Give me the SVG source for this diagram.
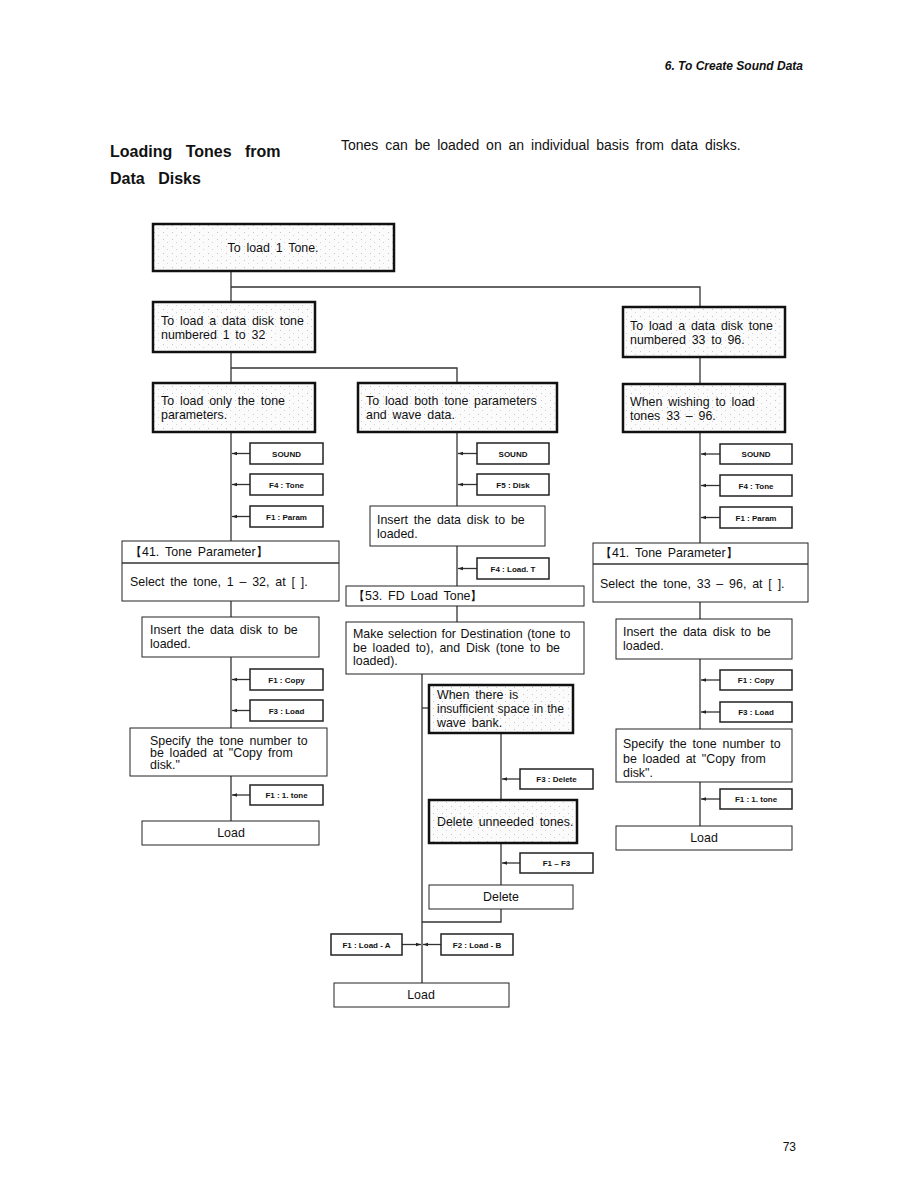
<svg xmlns="http://www.w3.org/2000/svg" width="918" height="1188" viewBox="0 0 918 1188">
<style>
text{font-family:"Liberation Sans",Arial,sans-serif;fill:#111}
.t{font-size:12.4px;word-spacing:2.4px}
.key{font-size:8px;font-weight:bold;text-anchor:middle}
.thick{fill:url(#dots);stroke:#111;stroke-width:2.5}
.thin{fill:#fff;stroke:#222;stroke-width:1}
.kb{fill:#fff;stroke:#222;stroke-width:1.5}
.ln{fill:none;stroke:#333;stroke-width:1.3}
.ar{fill:none;stroke:#333;stroke-width:1.3;marker-end:url(#ah)}
</style>
<defs>
<pattern id="dots" width="9" height="7" patternUnits="userSpaceOnUse">
<rect width="9" height="7" fill="#fbfbfb"/>
<rect x="1" y="1" width="1" height="1" fill="#c4c4c4"/>
<rect x="5" y="4" width="1" height="1" fill="#d2d2d2"/>
</pattern>
<marker id="ah" viewBox="0 0 6 6" refX="6" refY="3" markerWidth="5" markerHeight="5" orient="auto" markerUnits="userSpaceOnUse">
<path d="M0,0.8 L6,3 L0,5.2 z" fill="#222"/>
</marker>
</defs>
<rect width="918" height="1188" fill="#fff"/>

<text x="803" y="70" font-size="12" font-weight="bold" font-style="italic" text-anchor="end">6. To Create Sound Data</text>
<text x="110" y="157" font-size="16" font-weight="bold" word-spacing="9">Loading Tones from</text>
<text x="110" y="184" font-size="16" font-weight="bold" word-spacing="9">Data Disks</text>
<text x="341" y="150" font-size="14" word-spacing="3">Tones can be loaded on an individual basis from data disks.</text>
<text x="796" y="1151" font-size="12" text-anchor="end">73</text>

<g id="connectors">
<polyline class="ln" points="231,271 231,302"/>
<polyline class="ln" points="231,287 700,287 700,307"/>
<polyline class="ln" points="231,352 231,383"/>
<polyline class="ln" points="231,368 457,368 457,383"/>
<polyline class="ln" points="700,357 700,384"/>
<polyline class="ln" points="231,432 231,541"/>
<line class="ar" x1="250" y1="453.5" x2="232" y2="453.5"/>
<line class="ar" x1="250" y1="484.5" x2="232" y2="484.5"/>
<line class="ar" x1="250" y1="516.5" x2="232" y2="516.5"/>
<polyline class="ln" points="231,601 231,617"/>
<polyline class="ln" points="231,657 231,728"/>
<line class="ar" x1="250" y1="679.5" x2="232" y2="679.5"/>
<line class="ar" x1="250" y1="710.5" x2="232" y2="710.5"/>
<polyline class="ln" points="231,776 231,821"/>
<line class="ar" x1="250" y1="795" x2="232" y2="795"/>
<polyline class="ln" points="457,432 457,506"/>
<line class="ar" x1="477" y1="453.5" x2="458" y2="453.5"/>
<line class="ar" x1="477" y1="484.5" x2="458" y2="484.5"/>
<polyline class="ln" points="457,546 457,586"/>
<line class="ar" x1="477" y1="568.5" x2="458" y2="568.5"/>
<polyline class="ln" points="457,606 457,622"/>
<polyline class="ln" points="422,674 422,983"/>
<polyline class="ln" points="422,708 429,708"/>
<polyline class="ln" points="501,733 501,800"/>
<line class="ar" x1="520" y1="779" x2="502" y2="779"/>
<polyline class="ln" points="501,843 501,885"/>
<line class="ar" x1="520" y1="863" x2="502" y2="863"/>
<polyline class="ln" points="501,909 501,922 422,922"/>
<line class="ar" x1="402" y1="944.5" x2="421" y2="944.5"/>
<line class="ar" x1="441" y1="944.5" x2="423" y2="944.5"/>
<polyline class="ln" points="700,432 700,543"/>
<line class="ar" x1="720" y1="454" x2="701" y2="454"/>
<line class="ar" x1="720" y1="485.5" x2="701" y2="485.5"/>
<line class="ar" x1="720" y1="517.5" x2="701" y2="517.5"/>
<polyline class="ln" points="700,602 700,619"/>
<polyline class="ln" points="700,659 700,729"/>
<line class="ar" x1="720" y1="680" x2="701" y2="680"/>
<line class="ar" x1="720" y1="712" x2="701" y2="712"/>
<polyline class="ln" points="700,782 700,826"/>
<line class="ar" x1="720" y1="799" x2="701" y2="799"/>
</g>

<g id="n_top"><rect class="thick" x="153" y="224" width="241" height="47"/><text class="t" x="273" y="252" text-anchor="middle">To load 1 Tone.</text></g>
<g id="n_l1"><rect class="thick" x="153" y="302" width="162" height="50"/><text class="t" x="161" y="325">To load a data disk tone</text><text class="t" x="161" y="339">numbered 1 to 32</text></g>
<g id="n_r1"><rect class="thick" x="623" y="307" width="162" height="50"/><text class="t" x="630" y="330">To load a data disk tone</text><text class="t" x="630" y="344">numbered 33 to 96.</text></g>
<g id="n_l2"><rect class="thick" x="153" y="383" width="162" height="49"/><text class="t" x="161" y="405">To load only the tone</text><text class="t" x="161" y="419">parameters.</text></g>
<g id="n_m2"><rect class="thick" x="358" y="383" width="199" height="49"/><text class="t" x="366" y="405">To load both tone parameters</text><text class="t" x="366" y="419">and wave data.</text></g>
<g id="n_r2"><rect class="thick" x="623" y="384" width="162" height="48"/><text class="t" x="630" y="406">When wishing to load</text><text class="t" x="630" y="420">tones 33 – 96.</text></g>

<g id="k_l_sound"><rect class="kb" x="250" y="443" width="73" height="21"/><text class="key" x="286.5" y="456.5">SOUND</text></g>
<g id="k_l_tone"><rect class="kb" x="250" y="474" width="73" height="21"/><text class="key" x="286.5" y="487.5">F4 : Tone</text></g>
<g id="k_l_param"><rect class="kb" x="250" y="506" width="73" height="21"/><text class="key" x="286.5" y="519.5">F1 : Param</text></g>
<g id="n_l_tp"><rect class="thin" x="122" y="541" width="217" height="60"/><line class="ln" x1="122" y1="563" x2="339" y2="563" stroke-width="1"/><text class="t" x="130" y="556">【41. Tone Parameter】</text><text class="t" x="130" y="586">Select the tone, 1 – 32, at [ ].</text></g>
<g id="n_l_ins"><rect class="thin" x="142" y="617" width="177" height="40"/><text class="t" x="150" y="634">Insert the data disk to be</text><text class="t" x="150" y="648">loaded.</text></g>
<g id="k_l_copy"><rect class="kb" x="250" y="669" width="73" height="21"/><text class="key" x="286.5" y="682.5">F1 : Copy</text></g>
<g id="k_l_load"><rect class="kb" x="250" y="700" width="73" height="21"/><text class="key" x="286.5" y="713.5">F3 : Load</text></g>
<g id="n_l_spec"><rect class="thin" x="130" y="728" width="197" height="48"/><text class="t" x="150" y="745">Specify the tone number to</text><text class="t" x="150" y="757">be loaded at "Copy from</text><text class="t" x="150" y="769">disk."</text></g>
<g id="k_l_1tone"><rect class="kb" x="250" y="785" width="73" height="20"/><text class="key" x="286.5" y="798">F1 : 1. tone</text></g>
<g id="n_l_load"><rect class="thin" x="142" y="821" width="177" height="24"/><text class="t" x="231" y="837" text-anchor="middle">Load</text></g>

<g id="k_m_sound"><rect class="kb" x="477" y="443" width="72" height="21"/><text class="key" x="513" y="456.5">SOUND</text></g>
<g id="k_m_disk"><rect class="kb" x="477" y="474" width="72" height="21"/><text class="key" x="513" y="487.5">F5 : Disk</text></g>
<g id="n_m_ins"><rect class="thin" x="370" y="506" width="175" height="40"/><text class="t" x="377" y="524">Insert the data disk to be</text><text class="t" x="377" y="538">loaded.</text></g>
<g id="k_m_loadt"><rect class="kb" x="477" y="558" width="72" height="21"/><text class="key" x="513" y="571.5">F4 : Load. T</text></g>
<g id="n_m_fd"><rect class="thin" x="346" y="586" width="238" height="20"/><text class="t" x="353" y="600">【53. FD Load Tone】</text></g>
<g id="n_m_sel"><rect class="thin" x="346" y="622" width="238" height="52"/><text class="t" x="353" y="638" style="word-spacing:1.2px">Make selection for Destination (tone to</text><text class="t" x="353" y="652">be loaded to), and Disk (tone to be</text><text class="t" x="353" y="665">loaded).</text></g>
<g id="n_m_when"><rect class="thick" x="429" y="685" width="144" height="48"/><text class="t" x="437" y="699">When there is</text><text class="t" x="437" y="713" style="font-size:12px;word-spacing:0.8px">insufficient space in the</text><text class="t" x="437" y="727">wave bank.</text></g>
<g id="k_m_del"><rect class="kb" x="520" y="769" width="73" height="20"/><text class="key" x="556.5" y="782">F3 : Delete</text></g>
<g id="n_m_delun"><rect class="thick" x="429" y="800" width="148" height="43"/><text class="t" x="437" y="826">Delete unneeded tones.</text></g>
<g id="k_m_f1f3"><rect class="kb" x="520" y="853" width="73" height="20"/><text class="key" x="556.5" y="866">F1 – F3</text></g>
<g id="n_m_delete"><rect class="thin" x="429" y="885" width="144" height="24"/><text class="t" x="501" y="901" text-anchor="middle">Delete</text></g>
<g id="k_m_la"><rect class="kb" x="331" y="934" width="71" height="21"/><text class="key" x="366.5" y="947.5">F1 : Load - A</text></g>
<g id="k_m_lb"><rect class="kb" x="441" y="934" width="72" height="21"/><text class="key" x="477" y="947.5">F2 : Load - B</text></g>
<g id="n_m_load"><rect class="thin" x="334" y="983" width="175" height="24"/><text class="t" x="421" y="999" text-anchor="middle">Load</text></g>

<g id="k_r_sound"><rect class="kb" x="720" y="444" width="72" height="20"/><text class="key" x="756" y="457">SOUND</text></g>
<g id="k_r_tone"><rect class="kb" x="720" y="475" width="72" height="21"/><text class="key" x="756" y="488.5">F4 : Tone</text></g>
<g id="k_r_param"><rect class="kb" x="720" y="507" width="72" height="21"/><text class="key" x="756" y="520.5">F1 : Param</text></g>
<g id="n_r_tp"><rect class="thin" x="593" y="543" width="215" height="59"/><line class="ln" x1="593" y1="564" x2="808" y2="564" stroke-width="1"/><text class="t" x="600" y="557">【41. Tone Parameter】</text><text class="t" x="600" y="588">Select the tone, 33 – 96, at [ ].</text></g>
<g id="n_r_ins"><rect class="thin" x="616" y="619" width="176" height="40"/><text class="t" x="623" y="636">Insert the data disk to be</text><text class="t" x="623" y="650">loaded.</text></g>
<g id="k_r_copy"><rect class="kb" x="720" y="670" width="72" height="20"/><text class="key" x="756" y="683">F1 : Copy</text></g>
<g id="k_r_load"><rect class="kb" x="720" y="702" width="72" height="20"/><text class="key" x="756" y="715">F3 : Load</text></g>
<g id="n_r_spec"><rect class="thin" x="616" y="729" width="176" height="53"/><text class="t" x="623" y="748">Specify the tone number to</text><text class="t" x="623" y="763">be loaded at "Copy from</text><text class="t" x="623" y="777">disk".</text></g>
<g id="k_r_1tone"><rect class="kb" x="720" y="789" width="72" height="20"/><text class="key" x="756" y="802">F1 : 1. tone</text></g>
<g id="n_r_load"><rect class="thin" x="616" y="826" width="176" height="24"/><text class="t" x="704" y="842" text-anchor="middle">Load</text></g>
</svg>
